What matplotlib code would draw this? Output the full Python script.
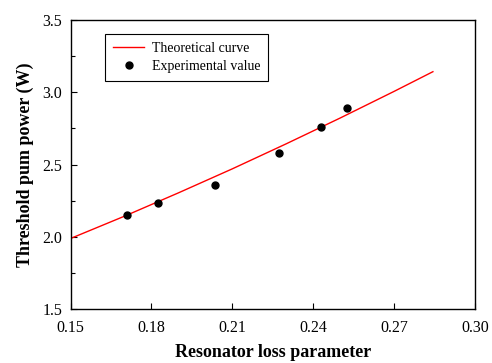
import matplotlib
matplotlib.use("Agg")
import matplotlib.pyplot as plt
from matplotlib.ticker import MultipleLocator, FormatStrFormatter

# Data
curve_x = [0.150, 0.170, 0.190, 0.210, 0.230, 0.250, 0.270, 0.2844]
curve_y = [1.989, 2.143, 2.304, 2.470, 2.643, 2.821, 3.005, 3.141]

exp_x = [0.1708, 0.1823, 0.2035, 0.2275, 0.2428, 0.2525]
exp_y = [2.153, 2.236, 2.358, 2.581, 2.757, 2.888]

plt.rcParams['font.family'] = ['Liberation Serif', 'DejaVu Serif']

fig = plt.figure(figsize=(4.92, 3.63), dpi=100)
ax = fig.add_axes([0.1433, 0.1479, 0.8221, 0.7978])

ax.plot(curve_x, curve_y, color='red', linewidth=1.0, label='Theoretical curve')
ax.plot(exp_x, exp_y, 'o', color='black', markersize=5, label='Experimental value')

ax.set_xlim(0.15, 0.30)
ax.set_ylim(1.5, 3.5)
ax.xaxis.set_major_locator(MultipleLocator(0.03))
ax.yaxis.set_major_locator(MultipleLocator(0.5))
ax.yaxis.set_minor_locator(MultipleLocator(0.25))
ax.xaxis.set_major_formatter(FormatStrFormatter('%.2f'))
ax.yaxis.set_major_formatter(FormatStrFormatter('%.1f'))
ax.tick_params(which='both', direction='in', labelsize=11.5, top=False, right=False)
ax.tick_params(which='major', length=4, width=0.8)
ax.tick_params(which='minor', length=3, width=0.8)
ax.tick_params(axis='x', pad=7.5)
ax.tick_params(axis='y', pad=6)

for s in ax.spines.values():
    s.set_linewidth(1.0)

ax.set_xlabel('Resonator loss parameter', fontsize=13, fontweight='bold', labelpad=6)
ax.set_ylabel('Threshold pum power (W)', fontsize=13, fontweight='bold', labelpad=6)

leg = ax.legend(loc='upper left', bbox_to_anchor=(0.0853, 0.9506), borderaxespad=0,
                fontsize=10, frameon=True, fancybox=False, edgecolor='black',
                framealpha=1, handlelength=2.2, handletextpad=0.55,
                borderpad=0.6, labelspacing=0.3)
leg.get_frame().set_linewidth(0.8)

plt.savefig('out.png', dpi=100)
